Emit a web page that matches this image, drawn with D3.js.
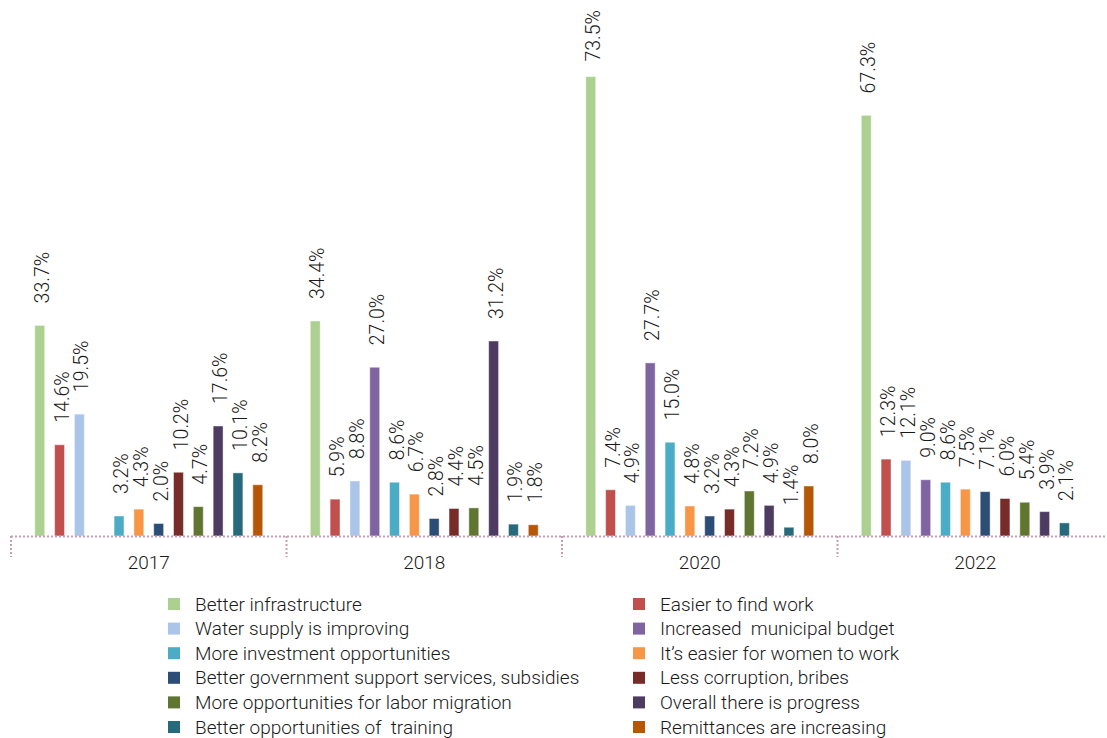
<!DOCTYPE html>
<html>
<head>
<meta charset="utf-8">
<script src="https://cdn.jsdelivr.net/npm/d3@7"></script>
<style>
  html, body { margin: 0; padding: 0; background: #fff; }
  svg { display: block; font-family: Roboto, "Liberation Sans", sans-serif; font-weight: 300; }
  svg text { white-space: pre; }
</style>
</head>
<body>
<svg id="chart" width="1107" height="738"></svg>
<script>
const years = ["2017", "2018", "2020", "2022"];
const seriesNames = [
  "Better infrastructure",
  "Easier to find work",
  "Water supply is improving",
  "Increased  municipal budget",
  "More investment opportunities",
  "It\u2019s easier for women to work",
  "Better government support services, subsidies",
  "Less corruption, bribes",
  "More opportunities for labor migration",
  "Overall there is progress",
  "Better opportunities of  training",
  "Remittances are increasing"
];
const seriesColors = [
  "#acd08f", "#c0504d", "#abc5e8", "#8064a2", "#4bacc6", "#f79646",
  "#2c4d75", "#772c2a", "#5f7530", "#4d3b62", "#276a7c", "#b65708"
];
// values per year, in series order (null = no bar)
const values2017 = [33.7, 14.6, 19.5, null, 3.2, 4.3, 2.0, 10.2, 4.7, 17.6, 10.1, 8.2];
const values2018 = [34.4, 5.9, 8.8, 27.0, 8.6, 6.7, 2.8, 4.4, 4.5, 31.2, 1.9, 1.8];
const values2020 = [73.5, 7.4, 4.9, 27.7, 15.0, 4.8, 3.2, 4.3, 7.2, 4.9, 1.4, 8.0];
const values2022 = [67.3, 12.3, 12.1, 9.0, 8.6, 7.5, 7.1, 6.0, 5.4, 3.9, 2.1, null];
const valuesByYear = [values2017, values2018, values2020, values2022];

const svg = d3.select("#chart");
const baseY = 536;

const x0 = d3.scaleBand().domain(years).range([11, 11 + 275.5 * 4]).paddingInner(0).paddingOuter(0);
const x1 = d3.scaleBand().domain(d3.range(seriesNames.length)).range([0, x0.bandwidth()])
  .paddingInner(0.5).paddingOuter(1.2);
const y = d3.scaleLinear().domain([0, 80]).range([baseY, 36]);
const color = d3.scaleOrdinal().domain(d3.range(seriesNames.length)).range(seriesColors);

const data = [];
years.forEach((yr, gi) => {
  valuesByYear[gi].forEach((v, si) => {
    if (v !== null) data.push({ year: yr, s: si, v: v });
  });
});

// bars
svg.append("g").selectAll("rect").data(data).join("rect")
  .attr("x", d => x0(d.year) + x1(d.s))
  .attr("y", d => y(d.v))
  .attr("width", x1.bandwidth())
  .attr("height", d => baseY - y(d.v))
  .attr("fill", d => color(d.s))
  .attr("stroke", "#ffffff")
  .attr("stroke-opacity", 0.45)
  .attr("stroke-width", 1);

// value labels
const labels = svg.append("g").selectAll("text").data(data).join("text")
  .attr("font-size", 19.5)
  .attr("fill", "#1a1a1a")
  .attr("text-anchor", "start")
  .attr("dy", "0.36em")
  .text(d => d.v.toFixed(1) + "%");
labels.each(function (d) {
  const len = this.getComputedTextLength();
  let yy = y(d.v) - 22;
  if (yy - len < 10) yy = 10 + len;
  const xx = x0(d.year) + x1(d.s) + x1.bandwidth() / 2 + 2;
  d3.select(this).attr("transform", `translate(${xx},${yy}) rotate(-90)`);
});

// axis
const axisColor = "#c79db3";
const axisG = svg.append("g");
axisG.append("line")
  .attr("x1", x0.range()[0]).attr("x2", x0.range()[1])
  .attr("y1", baseY + 0.5).attr("y2", baseY + 0.5)
  .attr("stroke", axisColor).attr("stroke-width", 2).attr("stroke-dasharray", "2,2");
const tickXs = years.map(yr => x0(yr)).concat([x0.range()[1]]);
axisG.selectAll("line.tick").data(tickXs).join("line")
  .attr("class", "tick")
  .attr("x1", d => d).attr("x2", d => d)
  .attr("y1", baseY).attr("y2", baseY + 21)
  .attr("stroke", axisColor).attr("stroke-width", 2).attr("stroke-dasharray", "2,2");
axisG.selectAll("text").data(years).join("text")
  .attr("x", d => x0(d) + x0.bandwidth() / 2)
  .attr("y", baseY + 26)
  .attr("dy", "0.35em")
  .attr("text-anchor", "middle")
  .attr("font-size", 19)
  .attr("fill", "#1a1a1a")
  .text(d => d);

// legend
const legend = svg.append("g");
const legItems = legend.selectAll("g").data(seriesNames.map((n, i) => ({ n, i }))).join("g")
  .attr("transform", d => `translate(${d.i % 2 === 0 ? 168 : 633},${604 + Math.floor(d.i / 2) * 24.6})`);
legItems.append("rect")
  .attr("x", 0).attr("y", -6).attr("width", 12).attr("height", 12)
  .attr("fill", d => color(d.i));
legItems.append("text")
  .attr("x", 27).attr("y", 0).attr("dy", "0.35em")
  .attr("font-size", 19)
  .attr("fill", "#1a1a1a")
  .text(d => d.n);
</script>
</body>
</html>
